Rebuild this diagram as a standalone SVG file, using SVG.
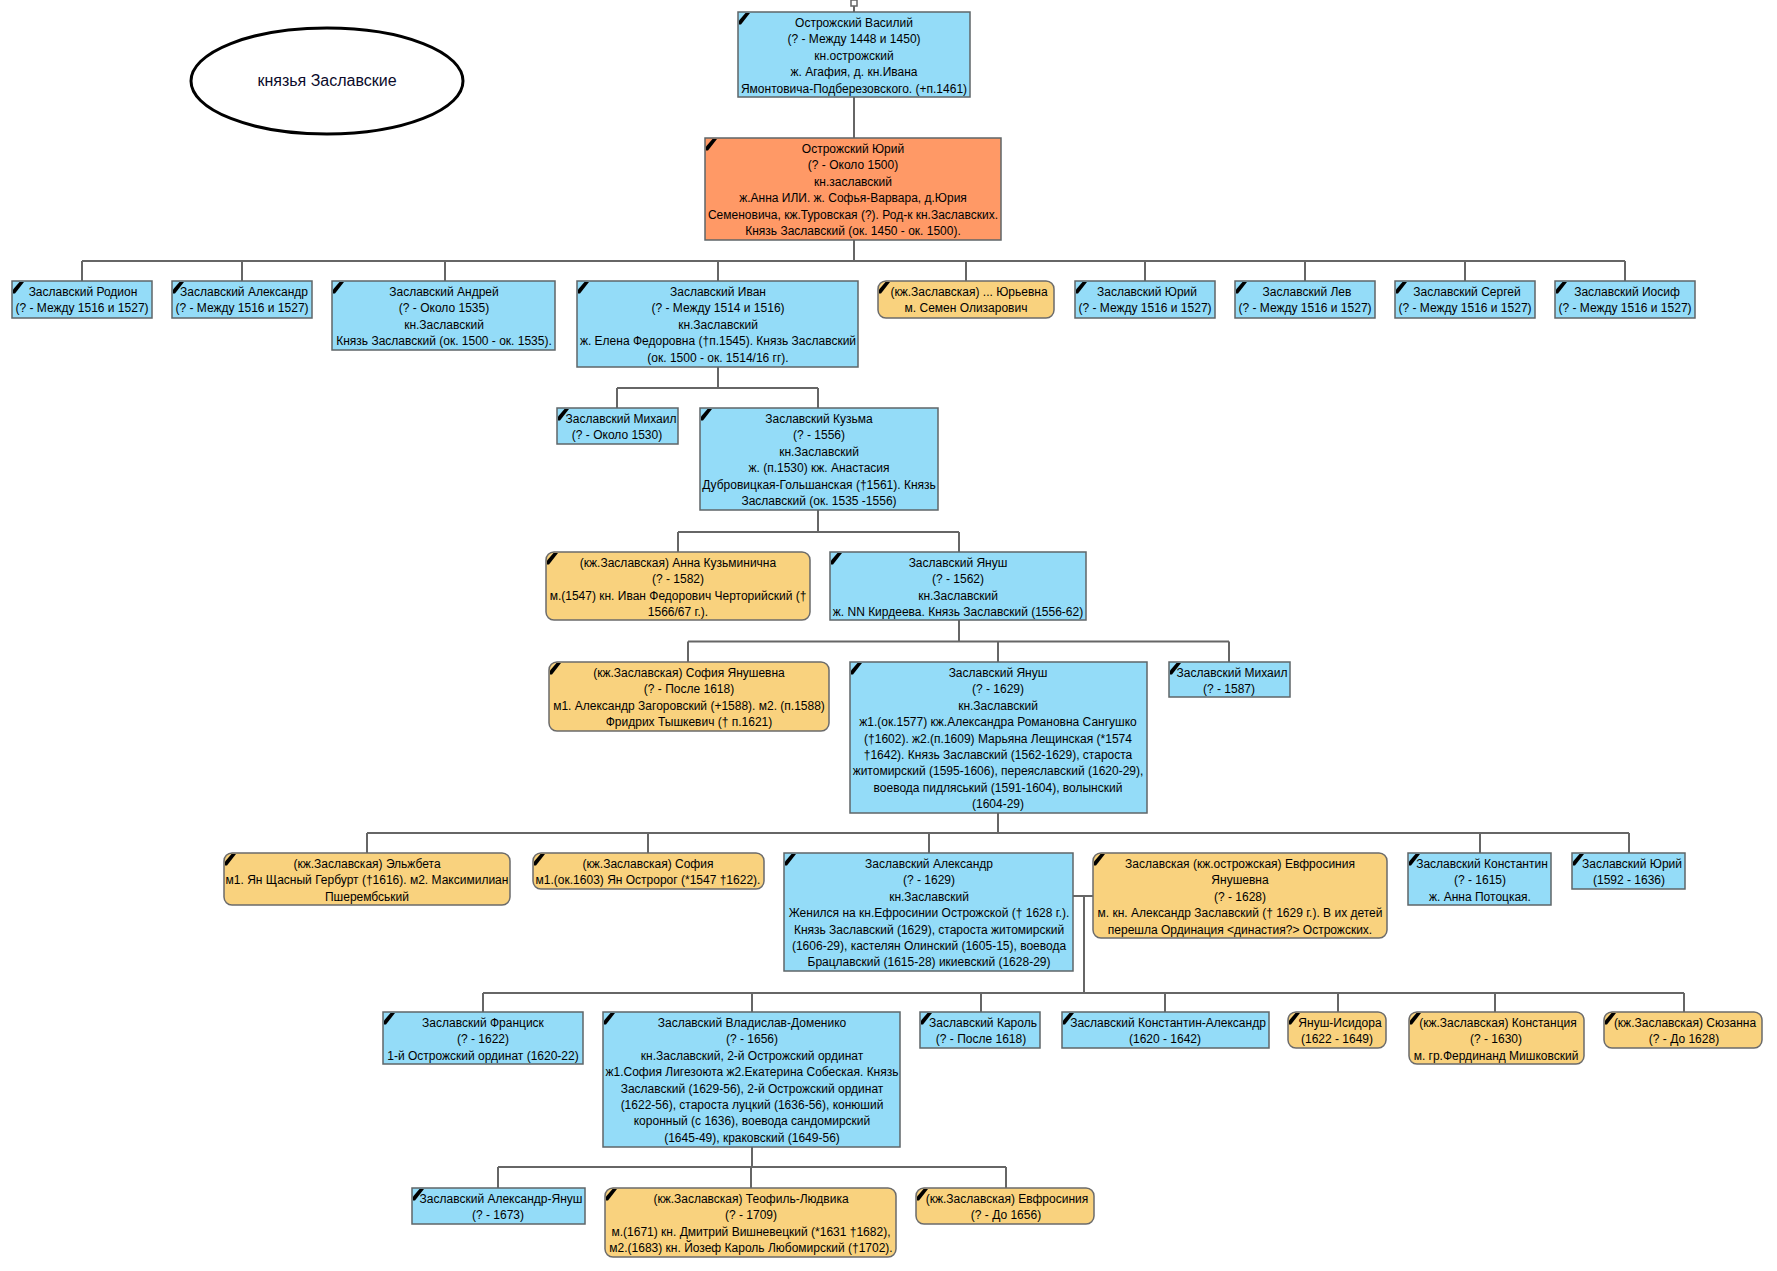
<svg xmlns="http://www.w3.org/2000/svg" xmlns:xlink="http://www.w3.org/1999/xlink" width="1777" height="1271" viewBox="0 0 1777 1271">
<style>
.b{fill:#94DCF8;stroke:#5f6668;stroke-width:1.5}
.o{fill:#F9D27E;stroke:#6b6b6b;stroke-width:1.5}
.s{fill:#FF9966;stroke:#5f6668;stroke-width:1.5}
text{font-family:"Liberation Sans",Arial,sans-serif;font-size:12px;fill:#000;text-anchor:middle}
.c path,.c line{stroke:#666;stroke-width:2;fill:none}
.m{fill:#000}
</style>
<defs>
<path id="mk" d="M1,8.5 L7.5,1 L12,1 L3,12.5 L1,12.5 Z"/>
</defs>
<rect width="1777" height="1271" fill="#fff"/>
<g id="title">
<ellipse cx="327" cy="81" rx="136" ry="53" fill="#fff" stroke="#000" stroke-width="3"/>
<text x="327" y="86" style="font-size:16px;fill:#0a0a2a">князья Заславские</text>
</g>
<g class="c" id="connectors">
<rect x="851" y="0" width="6" height="6" fill="#fff" stroke="#666" stroke-width="1.5"/>
<path d="M854,6V12M854,97V138"/>
<path d="M854,240V261M82,261H1625M82,261V281M242,261V281M445,261V281M718,261V281M966,261V281M1145,261V281M1305,261V281M1465,261V281M1625,261V281"/>
<path d="M718,367V388M617,388H818M617,388V408M818,388V408"/>
<path d="M818,510V532M678,532H959M678,532V552M959,532V552"/>
<path d="M959,620V641.5M688,641.5H1229M688,641.5V662M998,641.5V662M1229,641.5V662"/>
<path d="M998,813V833M367,833H1629M367,833V853M648,833V853M929,833V853M1480,833V853M1629,833V853"/>
<path d="M1073,896H1093M1084,896V993M483,993H1684M483,993V1012M752,993V1012M981,993V1012M1165,993V1012M1338,993V1012M1495,993V1012M1684,993V1012"/>
<path d="M752,1147V1167M498,1167H1006M498,1167V1188M751,1167V1188M1006,1167V1188"/>
</g>
<g id="n_vasiliy"><rect class="b" x="738" y="12" width="232" height="85"/><use xlink:href="#mk" x="738" y="12" class="m"/><text x="854" y="27"><tspan x="854">Острожский Василий</tspan><tspan x="854" dy="16.4">(? - Между 1448 и 1450)</tspan><tspan x="854" dy="16.4">кн.острожский</tspan><tspan x="854" dy="16.4">ж. Агафия, д. кн.Ивана</tspan><tspan x="854" dy="16.4">Ямонтовича-Подберезовского. (+п.1461)</tspan></text></g>
<g id="n_yuriy"><rect class="s" x="705" y="138" width="296" height="102"/><use xlink:href="#mk" x="705" y="138" class="m"/><text x="853" y="153"><tspan x="853">Острожский Юрий</tspan><tspan x="853" dy="16.4">(? - Около 1500)</tspan><tspan x="853" dy="16.4">кн.заславский</tspan><tspan x="853" dy="16.4">ж.Анна ИЛИ. ж. Софья-Варвара, д.Юрия</tspan><tspan x="853" dy="16.4">Семеновича, кж.Туровская (?). Род-к кн.Заславских.</tspan><tspan x="853" dy="16.4">Князь Заславский (ок. 1450 - ок. 1500).</tspan></text></g>
<g id="n_rodion"><rect class="b" x="12" y="281" width="140" height="37"/><use xlink:href="#mk" x="12" y="281" class="m"/><text x="83" y="296"><tspan x="83">Заславский Родион</tspan><tspan x="82" dy="16.4">(? - Между 1516 и 1527)</tspan></text></g>
<g id="n_aleksandr1"><rect class="b" x="172" y="281" width="140" height="37"/><use xlink:href="#mk" x="172" y="281" class="m"/><text x="243" y="296"><tspan x="244">Заславский Александр</tspan><tspan x="242" dy="16.4">(? - Между 1516 и 1527)</tspan></text></g>
<g id="n_andrey"><rect class="b" x="332" y="281" width="223" height="69"/><use xlink:href="#mk" x="332" y="281" class="m"/><text x="444" y="296"><tspan x="444">Заславский Андрей</tspan><tspan x="444" dy="16.4">(? - Около 1535)</tspan><tspan x="444" dy="16.4">кн.Заславский</tspan><tspan x="444" dy="16.4">Князь Заславский (ок. 1500 - ок. 1535).</tspan></text></g>
<g id="n_ivan"><rect class="b" x="577" y="281" width="281" height="86"/><use xlink:href="#mk" x="577" y="281" class="m"/><text x="718" y="296"><tspan x="718">Заславский Иван</tspan><tspan x="718" dy="16.4">(? - Между 1514 и 1516)</tspan><tspan x="718" dy="16.4">кн.Заславский</tspan><tspan x="718" dy="16.4">ж. Елена Федоровна (†п.1545). Князь Заславский</tspan><tspan x="718" dy="16.4">(ок. 1500 - ок. 1514/16 гг).</tspan></text></g>
<g id="n_yurievna"><rect class="o" x="878" y="281" width="176" height="37" rx="8"/><use xlink:href="#mk" x="878" y="281" class="m"/><text x="968" y="296"><tspan x="969">(кж.Заславская) ... Юрьевна</tspan><tspan x="966" dy="16.4">м. Семен Олизарович</tspan></text></g>
<g id="n_yuriy2"><rect class="b" x="1075" y="281" width="140" height="37"/><use xlink:href="#mk" x="1075" y="281" class="m"/><text x="1145" y="296"><tspan x="1147">Заславский Юрий</tspan><tspan x="1145" dy="16.4">(? - Между 1516 и 1527)</tspan></text></g>
<g id="n_lev"><rect class="b" x="1235" y="281" width="140" height="37"/><use xlink:href="#mk" x="1235" y="281" class="m"/><text x="1305" y="296"><tspan x="1307">Заславский Лев</tspan><tspan x="1305" dy="16.4">(? - Между 1516 и 1527)</tspan></text></g>
<g id="n_sergey"><rect class="b" x="1395" y="281" width="140" height="37"/><use xlink:href="#mk" x="1395" y="281" class="m"/><text x="1465" y="296"><tspan x="1467">Заславский Сергей</tspan><tspan x="1465" dy="16.4">(? - Между 1516 и 1527)</tspan></text></g>
<g id="n_iosif"><rect class="b" x="1555" y="281" width="140" height="37"/><use xlink:href="#mk" x="1555" y="281" class="m"/><text x="1625" y="296"><tspan x="1627">Заславский Иосиф</tspan><tspan x="1625" dy="16.4">(? - Между 1516 и 1527)</tspan></text></g>
<g id="n_mikhail1"><rect class="b" x="557" y="408" width="121" height="36"/><use xlink:href="#mk" x="557" y="408" class="m"/><text x="619" y="423"><tspan x="621">Заславский Михаил</tspan><tspan x="617" dy="16.4">(? - Около 1530)</tspan></text></g>
<g id="n_kuzma"><rect class="b" x="700" y="408" width="238" height="102"/><use xlink:href="#mk" x="700" y="408" class="m"/><text x="819" y="423"><tspan x="819">Заславский Кузьма</tspan><tspan x="819" dy="16.4">(? - 1556)</tspan><tspan x="819" dy="16.4">кн.Заславский</tspan><tspan x="819" dy="16.4">ж. (п.1530) кж. Анастасия</tspan><tspan x="819" dy="16.4">Дубровицкая-Гольшанская (†1561). Князь</tspan><tspan x="819" dy="16.4">Заславский (ок. 1535 -1556)</tspan></text></g>
<g id="n_anna"><rect class="o" x="546" y="552" width="264" height="68" rx="8"/><use xlink:href="#mk" x="546" y="552" class="m"/><text x="678" y="567"><tspan x="678">(кж.Заславская) Анна Кузьминична</tspan><tspan x="678" dy="16.4">(? - 1582)</tspan><tspan x="678" dy="16.4">м.(1547) кн. Иван Федорович Черторийский (†</tspan><tspan x="678" dy="16.4">1566/67 г.).</tspan></text></g>
<g id="n_yanush1"><rect class="b" x="830" y="552" width="256" height="68"/><use xlink:href="#mk" x="830" y="552" class="m"/><text x="958" y="567"><tspan x="958">Заславский Януш</tspan><tspan x="958" dy="16.4">(? - 1562)</tspan><tspan x="958" dy="16.4">кн.Заславский</tspan><tspan x="958" dy="16.4">ж. NN Кирдеева. Князь Заславский (1556-62)</tspan></text></g>
<g id="n_sofia1"><rect class="o" x="549" y="662" width="280" height="69" rx="8"/><use xlink:href="#mk" x="549" y="662" class="m"/><text x="689" y="677"><tspan x="689">(кж.Заславская) София Янушевна</tspan><tspan x="689" dy="16.4">(? - После 1618)</tspan><tspan x="689" dy="16.4">м1. Александр Загоровский (+1588). м2. (п.1588)</tspan><tspan x="689" dy="16.4">Фридрих Тышкевич († п.1621)</tspan></text></g>
<g id="n_yanush2"><rect class="b" x="850" y="662" width="297" height="151"/><use xlink:href="#mk" x="850" y="662" class="m"/><text x="998" y="677"><tspan x="998">Заславский Януш</tspan><tspan x="998" dy="16.4">(? - 1629)</tspan><tspan x="998" dy="16.4">кн.Заславский</tspan><tspan x="998" dy="16.4">ж1.(ок.1577) кж.Александра Романовна Сангушко</tspan><tspan x="998" dy="16.4">(†1602). ж2.(п.1609) Марьяна Лещинская (*1574</tspan><tspan x="998" dy="16.4">†1642). Князь Заславский (1562-1629), староста</tspan><tspan x="998" dy="16.4">житомирский (1595-1606), переяславский (1620-29),</tspan><tspan x="998" dy="16.4">воевода пидляський (1591-1604), волынский</tspan><tspan x="998" dy="16.4">(1604-29)</tspan></text></g>
<g id="n_mikhail2"><rect class="b" x="1169" y="662" width="121" height="35"/><use xlink:href="#mk" x="1169" y="662" class="m"/><text x="1230" y="677"><tspan x="1232">Заславский Михаил</tspan><tspan x="1229" dy="16.4">(? - 1587)</tspan></text></g>
<g id="n_elzhbeta"><rect class="o" x="224" y="853" width="286" height="52" rx="8"/><use xlink:href="#mk" x="224" y="853" class="m"/><text x="367" y="868"><tspan x="367">(кж.Заславская) Эльжбета</tspan><tspan x="367" dy="16.4">м1. Ян Щасный Гербурт (†1616). м2. Максимилиан</tspan><tspan x="367" dy="16.4">Пшерембський</tspan></text></g>
<g id="n_sofia2"><rect class="o" x="533" y="853" width="231" height="36" rx="8"/><use xlink:href="#mk" x="533" y="853" class="m"/><text x="648" y="868"><tspan x="648">(кж.Заславская) София</tspan><tspan x="648" dy="16.4">м1.(ок.1603) Ян Остророг (*1547 †1622).</tspan></text></g>
<g id="n_aleksandr2"><rect class="b" x="784" y="853" width="289" height="118"/><use xlink:href="#mk" x="784" y="853" class="m"/><text x="929" y="868"><tspan x="929">Заславский Александр</tspan><tspan x="929" dy="16.4">(? - 1629)</tspan><tspan x="929" dy="16.4">кн.Заславский</tspan><tspan x="929" dy="16.4">Женился на кн.Ефросинии Острожской († 1628 г.).</tspan><tspan x="929" dy="16.4">Князь Заславский (1629), староста житомирский</tspan><tspan x="929" dy="16.4">(1606-29), кастелян Олинский (1605-15), воевода</tspan><tspan x="929" dy="16.4">Брацлавский (1615-28) икиевский (1628-29)</tspan></text></g>
<g id="n_evfrosiniya1"><rect class="o" x="1093" y="853" width="294" height="85" rx="8"/><use xlink:href="#mk" x="1093" y="853" class="m"/><text x="1240" y="868"><tspan x="1240">Заславская (кж.острожская) Евфросиния</tspan><tspan x="1240" dy="16.4">Янушевна</tspan><tspan x="1240" dy="16.4">(? - 1628)</tspan><tspan x="1240" dy="16.4">м. кн. Александр Заславский († 1629 г.). В их детей</tspan><tspan x="1240" dy="16.4">перешла Ординация &lt;династия?&gt; Острожских.</tspan></text></g>
<g id="n_konstantin"><rect class="b" x="1408" y="853" width="143" height="52"/><use xlink:href="#mk" x="1408" y="853" class="m"/><text x="1480" y="868"><tspan x="1482">Заславский Константин</tspan><tspan x="1480" dy="16.4">(? - 1615)</tspan><tspan x="1480" dy="16.4">ж. Анна Потоцкая.</tspan></text></g>
<g id="n_yuriy3"><rect class="b" x="1572" y="853" width="113" height="36"/><use xlink:href="#mk" x="1572" y="853" class="m"/><text x="1630" y="868"><tspan x="1632">Заславский Юрий</tspan><tspan x="1629" dy="16.4">(1592 - 1636)</tspan></text></g>
<g id="n_frantsisk"><rect class="b" x="383" y="1012" width="200" height="52"/><use xlink:href="#mk" x="383" y="1012" class="m"/><text x="483" y="1027"><tspan x="483">Заславский Франциск</tspan><tspan x="483" dy="16.4">(? - 1622)</tspan><tspan x="483" dy="16.4">1-й Острожский ординат (1620-22)</tspan></text></g>
<g id="n_vladislav"><rect class="b" x="603" y="1012" width="297" height="135"/><use xlink:href="#mk" x="603" y="1012" class="m"/><text x="752" y="1027"><tspan x="752">Заславский Владислав-Доменико</tspan><tspan x="752" dy="16.4">(? - 1656)</tspan><tspan x="752" dy="16.4">кн.Заславский, 2-й Острожский ординат</tspan><tspan x="752" dy="16.4">ж1.София Лигезоюта ж2.Екатерина Собеская. Князь</tspan><tspan x="752" dy="16.4">Заславский (1629-56), 2-й Острожский ординат</tspan><tspan x="752" dy="16.4">(1622-56), староста луцкий (1636-56), конюший</tspan><tspan x="752" dy="16.4">коронный (с 1636), воевода сандомирский</tspan><tspan x="752" dy="16.4">(1645-49), краковский (1649-56)</tspan></text></g>
<g id="n_karol"><rect class="b" x="920" y="1012" width="120" height="36"/><use xlink:href="#mk" x="920" y="1012" class="m"/><text x="981" y="1027"><tspan x="983">Заславский Кароль</tspan><tspan x="981" dy="16.4">(? - После 1618)</tspan></text></g>
<g id="n_konst_aleks"><rect class="b" x="1062" y="1012" width="207" height="36"/><use xlink:href="#mk" x="1062" y="1012" class="m"/><text x="1166" y="1027"><tspan x="1168">Заславский Константин-Александр</tspan><tspan x="1165" dy="16.4">(1620 - 1642)</tspan></text></g>
<g id="n_yanush_isidora"><rect class="o" x="1288" y="1012" width="98" height="36" rx="8"/><use xlink:href="#mk" x="1288" y="1012" class="m"/><text x="1338" y="1027"><tspan x="1340">Януш-Исидора</tspan><tspan x="1337" dy="16.4">(1622 - 1649)</tspan></text></g>
<g id="n_konstantsiya"><rect class="o" x="1409" y="1012" width="175" height="52" rx="8"/><use xlink:href="#mk" x="1409" y="1012" class="m"/><text x="1497" y="1027"><tspan x="1498">(кж.Заславская) Констанция</tspan><tspan x="1496" dy="16.4">(? - 1630)</tspan><tspan x="1496" dy="16.4">м. гр.Фердинанд Мишковский</tspan></text></g>
<g id="n_syuzanna"><rect class="o" x="1604" y="1012" width="158" height="36" rx="8"/><use xlink:href="#mk" x="1604" y="1012" class="m"/><text x="1684" y="1027"><tspan x="1685">(кж.Заславская) Сюзанна</tspan><tspan x="1684" dy="16.4">(? - До 1628)</tspan></text></g>
<g id="n_aleks_yanush"><rect class="b" x="412" y="1188" width="173" height="36"/><use xlink:href="#mk" x="412" y="1188" class="m"/><text x="499" y="1203"><tspan x="501">Заславский Александр-Януш</tspan><tspan x="498" dy="16.4">(? - 1673)</tspan></text></g>
<g id="n_teofil"><rect class="o" x="605" y="1188" width="291" height="69" rx="8"/><use xlink:href="#mk" x="605" y="1188" class="m"/><text x="751" y="1203"><tspan x="751">(кж.Заславская) Теофиль-Людвика</tspan><tspan x="751" dy="16.4">(? - 1709)</tspan><tspan x="751" dy="16.4">м.(1671) кн. Дмитрий Вишневецкий (*1631 †1682),</tspan><tspan x="751" dy="16.4">м2.(1683) кн. Йозеф Кароль Любомирский (†1702).</tspan></text></g>
<g id="n_evfrosiniya2"><rect class="o" x="916" y="1188" width="178" height="36" rx="8"/><use xlink:href="#mk" x="916" y="1188" class="m"/><text x="1006" y="1203"><tspan x="1007">(кж.Заславская) Евфросиния</tspan><tspan x="1006" dy="16.4">(? - До 1656)</tspan></text></g>
</svg>
